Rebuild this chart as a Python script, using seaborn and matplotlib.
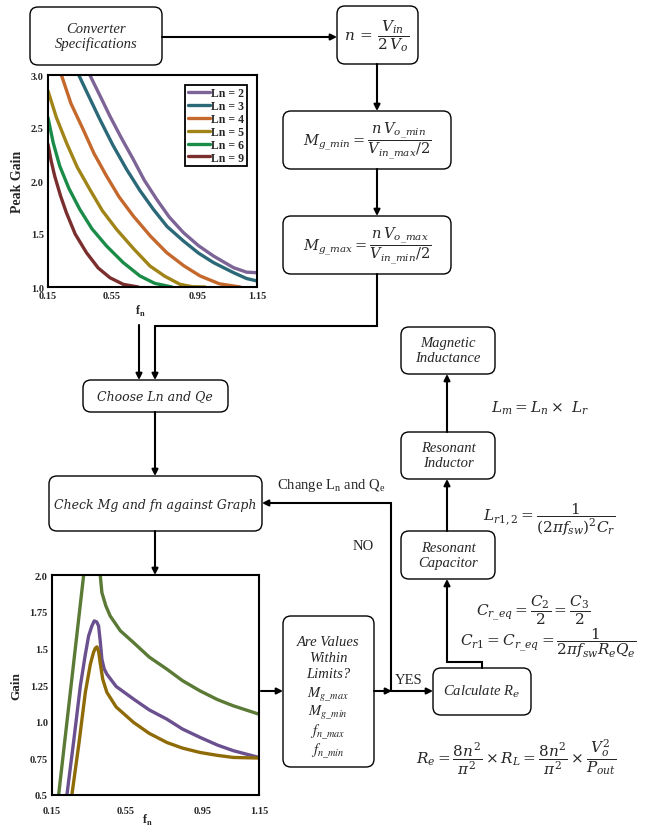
import pandas as pd
import seaborn as sns
import matplotlib.pyplot as plt
from matplotlib.patches import FancyBboxPatch

sns.set_style('white')
plt.rcParams['font.family'] = ['Liberation Serif', 'DejaVu Serif']
plt.rcParams['mathtext.fontset'] = 'dejavuserif'

# ---- top chart: peak gain against fn for each Ln ----
ln_labels = ['Ln = 2', 'Ln = 3', 'Ln = 4', 'Ln = 5', 'Ln = 6', 'Ln = 9']
ln_colors = ['#7d6496', '#2b6878', '#c4682c', '#a08418', '#1a8c48', '#7b2e2e']
peak_fn = [
    [0.35, 0.40, 0.446, 0.50, 0.558, 0.61, 0.67, 0.73, 0.798, 0.87, 0.942, 1.038, 1.10, 1.15],
    [0.297, 0.35, 0.398, 0.46, 0.526, 0.59, 0.654, 0.72, 0.798, 0.87, 0.942, 1.038, 1.10, 1.15],
    [0.214, 0.26, 0.318, 0.37, 0.43, 0.49, 0.558, 0.64, 0.718, 0.80, 0.878, 0.97, 1.07],
    [0.15, 0.19, 0.238, 0.29, 0.35, 0.41, 0.478, 0.56, 0.638, 0.71, 0.782, 0.84, 0.902],
    [0.15, 0.175, 0.206, 0.25, 0.302, 0.36, 0.43, 0.51, 0.59, 0.66, 0.742],
    [0.15, 0.165, 0.182, 0.21, 0.238, 0.28, 0.334, 0.39, 0.446, 0.51, 0.582],
]
peak_gain = [
    [3.0, 2.80, 2.613, 2.41, 2.204, 2.01, 1.827, 1.66, 1.513, 1.39, 1.292, 1.182, 1.14, 1.135],
    [3.0, 2.78, 2.582, 2.34, 2.110, 1.91, 1.733, 1.57, 1.434, 1.32, 1.230, 1.135, 1.08, 1.057],
    [3.0, 2.73, 2.487, 2.26, 2.047, 1.85, 1.67, 1.48, 1.324, 1.20, 1.104, 1.03, 1.0],
    [2.85, 2.60, 2.362, 2.13, 1.921, 1.72, 1.544, 1.36, 1.198, 1.10, 1.025, 1.003, 1.0],
    [2.597, 2.36, 2.142, 1.93, 1.733, 1.55, 1.387, 1.23, 1.104, 1.035, 1.0],
    [2.346, 2.19, 2.047, 1.86, 1.701, 1.50, 1.324, 1.18, 1.088, 1.025, 1.0],
]

# ---- bottom chart: gain curves ----
gain_names = ['green_left', 'green_right', 'purple', 'gold']
gain_colors = ['#5a7a35', '#5a7a35', '#6b5090', '#8f6b08']
gain_fn = [
    [0.182, 0.303],
    [0.383, 0.391, 0.41, 0.431, 0.48, 0.544, 0.62, 0.705, 0.78, 0.865, 0.95, 1.026, 1.15],
    [0.222, 0.255, 0.287, 0.31, 0.327, 0.342, 0.354, 0.366, 0.375, 0.383, 0.391, 0.402, 0.415, 0.46,
     0.544, 0.62, 0.705, 0.78, 0.865, 0.95, 1.026, 1.15],
    [0.246, 0.28, 0.311, 0.335, 0.35, 0.359, 0.367, 0.375, 0.383, 0.395, 0.415, 0.46, 0.544, 0.62,
     0.705, 0.78, 0.865, 0.95, 1.026, 1.15],
]
gain_val = [
    [0.5, 2.0],
    [2.0, 1.88, 1.79, 1.721, 1.62, 1.539, 1.44, 1.358, 1.28, 1.21, 1.15, 1.108, 1.051],
    [0.5, 0.87, 1.244, 1.45, 1.585, 1.65, 1.687, 1.68, 1.653, 1.55, 1.426, 1.36, 1.324, 1.24,
     1.154, 1.08, 1.017, 0.95, 0.893, 0.84, 0.802, 0.756],
    [0.5, 0.85, 1.199, 1.39, 1.47, 1.50, 1.51, 1.48, 1.40, 1.29, 1.20, 1.10, 0.995, 0.92,
     0.858, 0.82, 0.79, 0.77, 0.756, 0.752],
]

top_xticks = [0.15, 0.456, 0.868, 1.15]
top_xticklabels = ['0.15', '0.55', '0.95', '1.15']
top_yticks = [1.0, 1.5, 2.0, 2.5, 3.0]
top_yticklabels = ['1.0', '1.5', '2.0', '2.5', '3.0']
bot_xticks = [0.15, 0.505, 0.88, 1.15]
bot_xticklabels = ['0.15', '0.55', '0.95', '1.15']
bot_yticks = [0.5, 0.75, 1.0, 1.25, 1.5, 1.75, 2.0]
bot_yticklabels = ['0.5', '0.75', '1.0', '1.25', '1.5', '1.75', '2.0']

W, H = 650, 829
fig = plt.figure(figsize=(6.5, 8.29), dpi=100)

# ---- flowchart layer in pixel coordinates ----
ax = fig.add_axes([0, 0, 1, 1])
ax.set_xlim(0, W)
ax.set_ylim(H, 0)
ax.axis('off')


def box(x0, y0, x1, y1):
    ax.add_patch(FancyBboxPatch((x0, y0), x1 - x0, y1 - y0,
                                boxstyle='round,pad=0,rounding_size=8',
                                fc='white', ec='black', lw=1.0, zorder=2))


def arrow(x0, y0, x1, y1):
    ax.annotate('', xy=(x1, y1), xytext=(x0, y0), zorder=3,
                arrowprops=dict(arrowstyle='-|>', color='black', lw=1.5,
                                mutation_scale=9, shrinkA=0, shrinkB=0))


def line(xs, ys):
    ax.plot(xs, ys, color='black', lw=1.5, solid_joinstyle='miter', zorder=3)


box_font = dict(family='Liberation Serif', style='italic', fontsize=10.5,
                ha='center', va='center', linespacing=1.15, zorder=4)
cambria = dict(family='DejaVu Serif', style='italic', fontsize=9,
               ha='center', va='center', zorder=4)
eq_font = dict(fontsize=11, ha='center', va='center', zorder=4)

box(30, 8, 162, 66)
ax.text(96, 37, 'Converter\nSpecifications', **box_font)
box(337, 7, 418, 65)
ax.text(377, 36, r'$n\,=\,\dfrac{V_{in}}{2\,V_o}$', **eq_font)
box(283, 112, 451, 170)
ax.text(367, 141, r'$M_{g\_min}=\dfrac{n\,V_{o\_min}}{V_{in\_max}/2}$', **dict(eq_font, fontsize=10.5))
box(283, 217, 451, 275)
ax.text(367, 246, r'$M_{g\_max}=\dfrac{n\,V_{o\_max}}{V_{in\_min}/2}$', **dict(eq_font, fontsize=10.5))
box(83, 381, 228, 413)
ax.text(155, 397, 'Choose Ln and Qe', **cambria)
box(49, 477, 262, 532)
ax.text(155, 505, 'Check Mg and fn against Graph', **cambria)
box(283, 617, 374, 768)
ax.text(328, 658, 'Are Values\nWithin\nLimits?', **dict(box_font, linespacing=1.3))
sub_font = dict(box_font, fontsize=10.5)
for yy, s in zip([695, 713, 732, 751],
                 [r'$M_{g\_max}$', r'$M_{g\_min}$', r'$f_{n\_max}$', r'$f_{n\_min}$']):
    ax.text(328, yy, s, math_fontfamily='stix', **sub_font)
box(433, 669, 531, 716)
ax.text(482, 692, r'Calculate R$_e$', **box_font)
box(401, 532, 495, 580)
ax.text(448, 556, 'Resonant\nCapacitor', **box_font)
box(401, 433, 495, 480)
ax.text(448, 456, 'Resonant\nInductor', **box_font)
box(401, 328, 495, 375)
ax.text(448, 351, 'Magnetic\nInductance', **box_font)

ax.text(540, 408, r'$L_m = L_n \times\ L_r$', **eq_font)
ax.text(549, 520, r'$L_{r1,2} = \dfrac{1}{(2\pi f_{sw})^2 C_r}$', **eq_font)
ax.text(533, 610, r'$C_{r\_eq} = \dfrac{C_2}{2} = \dfrac{C_3}{2}$', **eq_font)
ax.text(548, 643, r'$C_{r1} = C_{r\_eq} = \dfrac{1}{2\pi f_{sw} R_e Q_e}$', **eq_font)
ax.text(516, 758, r'$R_e = \dfrac{8n^2}{\pi^2} \times R_L = \dfrac{8n^2}{\pi^2} \times \dfrac{V_o^2}{P_{out}}$',
        **eq_font)

ax.text(331, 486, r'Change L$_\mathregular{n}$ and Q$_\mathregular{e}$', fontsize=10.5,
        ha='center', va='center')
ax.text(363, 547, 'NO', fontsize=10.5, ha='center', va='center')
ax.text(409, 680, 'YES', fontsize=10.5, ha='center', va='center')

arrow(162, 38, 337, 38)
arrow(377, 65, 377, 112)
arrow(377, 170, 377, 217)
line([377, 377, 155], [275, 327, 327])
arrow(155, 327, 155, 381)
arrow(139, 326, 139, 381)
arrow(155, 413, 155, 477)
arrow(155, 532, 155, 576)
line([391, 391], [692, 504])
arrow(391, 504, 262, 504)
arrow(261, 692, 283, 692)
arrow(374, 692, 392, 692)
arrow(391, 692, 433, 692)
line([482, 482, 447], [669, 663, 663])
arrow(447, 663, 447, 580)
arrow(447, 532, 447, 480)
arrow(447, 433, 447, 375)


def px_axes(x0, y0, x1, y1):
    return fig.add_axes([x0 / W, 1 - y1 / H, (x1 - x0) / W, (y1 - y0) / H])


def style_axes(a, xpad):
    for sp in a.spines.values():
        sp.set_visible(True)
        sp.set_color('black')
        sp.set_linewidth(1.5)
    a.tick_params(length=0, labelsize=7.5, pad=3)
    a.tick_params(axis='x', pad=xpad)
    for lab in a.get_xticklabels() + a.get_yticklabels():
        lab.set_fontweight('bold')


# ---- top chart ----
rows = []
for lab, xs, ys in zip(ln_labels, peak_fn, peak_gain):
    for xv, yv in zip(xs, ys):
        rows.append({'Ln': lab, 'fn': xv, 'gain': yv})
top_df = pd.DataFrame(rows)

ax1 = px_axes(48, 76, 257, 288)
sns.lineplot(data=top_df, x='fn', y='gain', hue='Ln', palette=ln_colors, sort=False,
             estimator=None, lw=2.4, ax=ax1)
for ln_ in ax1.lines:
    ln_.set_solid_capstyle('round')
ax1.set_xlim(0.15, 1.15)
ax1.set_ylim(1.0, 3.0)
ax1.set_xticks(top_xticks)
ax1.set_xticklabels(top_xticklabels)
ax1.set_yticks(top_yticks)
ax1.set_yticklabels(top_yticklabels)
ax1.set_xlabel(r'f$_\mathregular{n}$', fontsize=8.5, fontweight='bold', labelpad=0)
ax1.xaxis.set_label_coords(0.44, -0.075)
ax1.set_ylabel('Peak Gain', fontsize=10, fontweight='bold', labelpad=5)
style_axes(ax1, 3)
leg = ax1.legend(loc='upper right', bbox_to_anchor=(0.95, 0.955),
                 handlelength=1.9, handletextpad=0.1, labelspacing=0.08,
                 borderpad=0.2, borderaxespad=0, fancybox=False, framealpha=1,
                 edgecolor='black', prop={'weight': 'bold', 'size': 8.5})
leg.get_frame().set_linewidth(1.3)
for h in leg.get_lines():
    h.set_linewidth(2.4)

# ---- bottom chart ----
rows = []
for name, xs, ys in zip(gain_names, gain_fn, gain_val):
    for xv, yv in zip(xs, ys):
        rows.append({'curve': name, 'fn': xv, 'gain': yv})
bot_df = pd.DataFrame(rows)

ax2 = px_axes(52, 576, 259, 796)
sns.lineplot(data=bot_df, x='fn', y='gain', hue='curve',
             palette=dict(zip(gain_names, gain_colors)), sort=False,
             estimator=None, lw=2.4, legend=False, ax=ax2)
ax2.set_xlim(0.15, 1.15)
ax2.set_ylim(0.5, 2.0)
ax2.set_xticks(bot_xticks)
ax2.set_xticklabels(bot_xticklabels)
ax2.set_yticks(bot_yticks)
ax2.set_yticklabels(bot_yticklabels)
ax2.set_xlabel(r'f$_\mathregular{n}$', fontsize=8.5, fontweight='bold', labelpad=0)
ax2.xaxis.set_label_coords(0.46, -0.078)
ax2.set_ylabel('Gain', fontsize=9.5, fontweight='bold', labelpad=5)
style_axes(ax2, 8)

fig.savefig('out.png', dpi=100)
